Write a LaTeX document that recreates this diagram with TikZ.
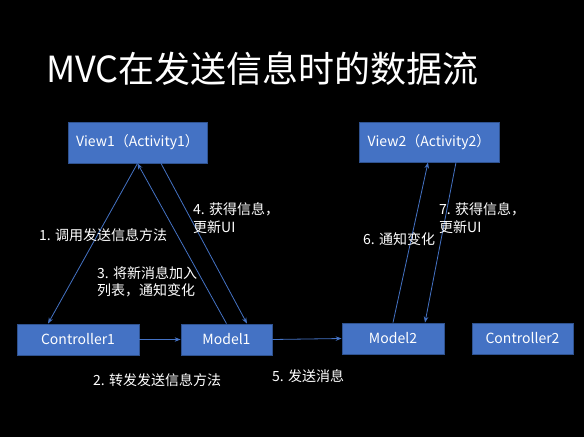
\documentclass[tikz,border=0pt]{standalone}
\usepackage{fontspec}
\setmainfont{Noto Sans CJK SC}
\usetikzlibrary{arrows.meta}
\definecolor{boxblue}{HTML}{4472C4}
\definecolor{boxedge}{HTML}{2F528F}
\definecolor{lineblue}{HTML}{4472C4}
\begin{document}
\begin{tikzpicture}[x=1pt,y=-1pt,
  box/.style={draw=boxedge,line width=0.8pt,fill=boxblue,text=white,inner sep=0pt,
    font=\fontsize{14}{17}\selectfont},
  lbl/.style={text=white,anchor=west,align=left,inner sep=0pt,
    font=\fontsize{14}{17.5}\selectfont},
  flow/.style={draw=lineblue,line width=0.8pt,-{Stealth[length=6pt,width=4.5pt]}}]
\fill[black] (0,0) rectangle (584,437);
\useasboundingbox (0,0) rectangle (584,437);
\node[anchor=base west,text=white,inner sep=0pt,font=\fontsize{36}{40}\selectfont] (title) at (46,82) {MVC在发送信息时的数据流};
\node[box,minimum width=139pt,minimum height=41pt] (view1) at (137.5,142.5) {View1（Activity1）};
\node[box,minimum width=140pt,minimum height=40pt] (view2) at (429,142) {View2（Activity2）};
\node[box,minimum width=122pt,minimum height=31pt] (ctrl1) at (78,339.5) {Controller1};
\node[box,minimum width=91pt,minimum height=31pt] (model1) at (226.5,339.5) {Model1};
\node[box,minimum width=102pt,minimum height=31pt] (model2) at (393,338.5) {Model2};
\node[box,minimum width=101pt,minimum height=31pt] (ctrl2) at (522.5,338.5) {Controller2};
% connectors
\draw[flow] (view1.south) -- ([xshift=-30pt]ctrl1.north);
\draw[flow] (ctrl1.east) -- (model1.west);
\draw[flow] (model1.north) -- (view1.south);
\draw[flow] ([xshift=23.5pt]view1.south) -- ([xshift=20.5pt]model1.north);
\draw[flow] (model1.east) -- (model2.west);
\draw[flow] (model2.north) -- ([xshift=-1pt]view2.south);
\draw[flow] ([xshift=27pt]view2.south) -- ([xshift=32pt]model2.north);
% labels
\node[lbl] (l1) at (39,235) {1. 调用发送信息方法};
\node[lbl] (l2) at (93,380) {2. 转发发送信息方法};
\node[lbl] (l3) at (97,282) {3. 将新消息加入\\列表，通知变化};
\node[lbl] (l4) at (193,218) {4. 获得信息，\\更新UI};
\node[lbl] (l5) at (272,376) {5. 发送消息};
\node[lbl] (l6) at (363,239) {6. 通知变化};
\node[lbl] (l7) at (439,218) {7. 获得信息，\\更新UI};
\end{tikzpicture}
\end{document}
